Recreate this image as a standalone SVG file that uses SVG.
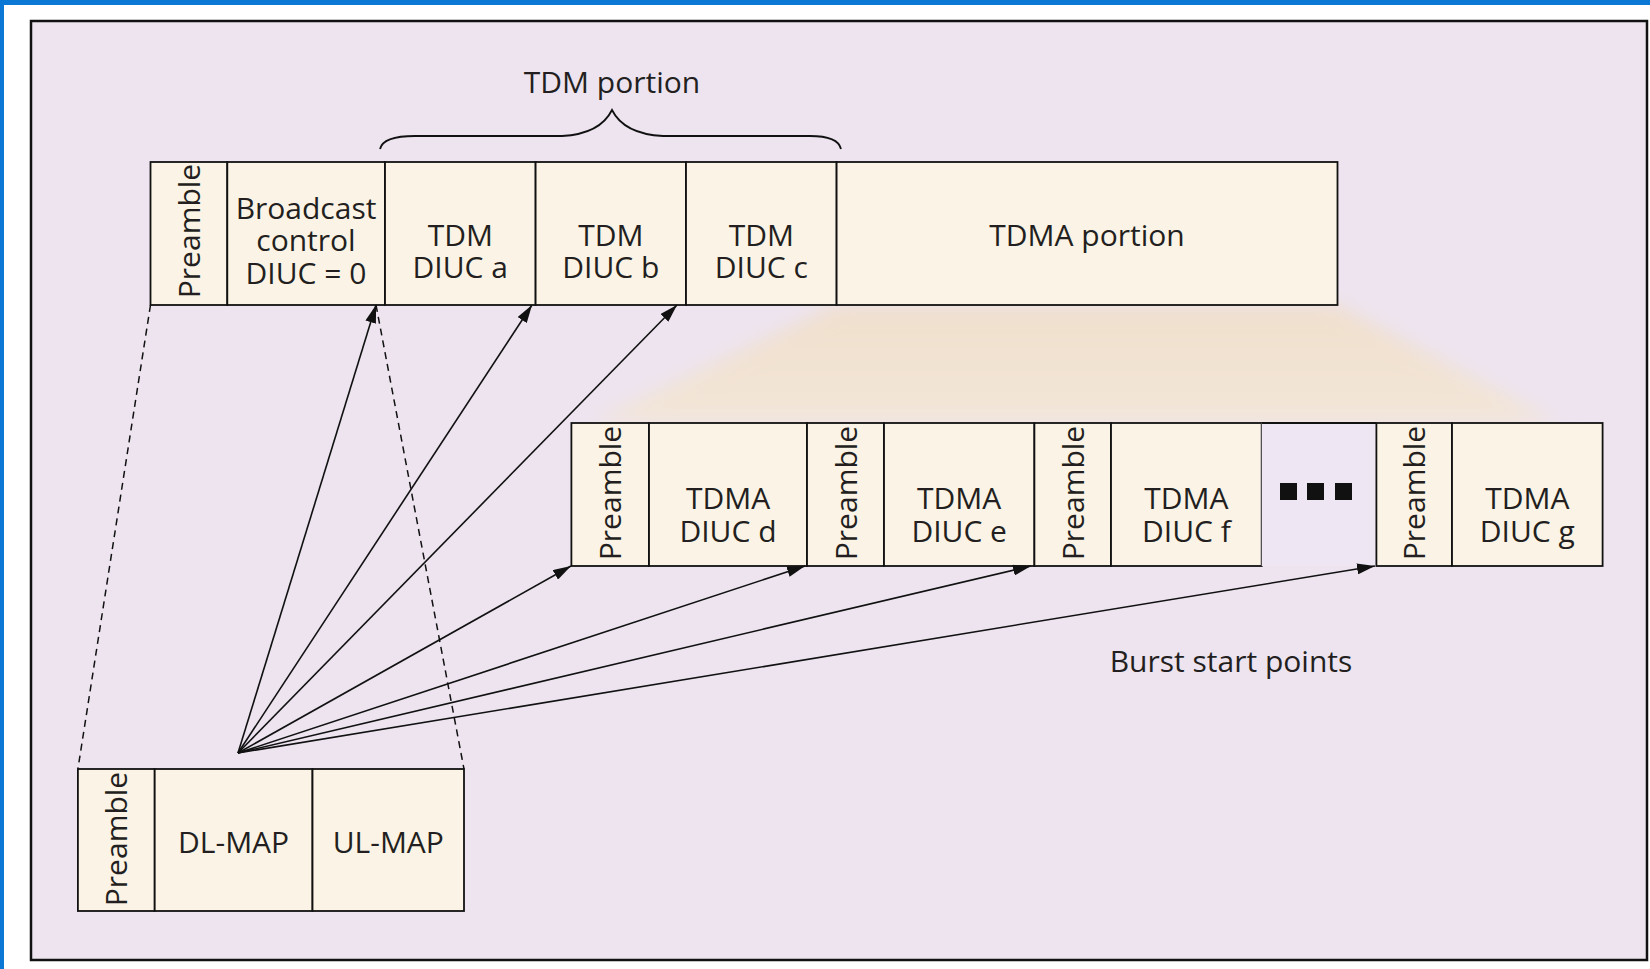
<svg xmlns="http://www.w3.org/2000/svg" width="1650" height="969" viewBox="0 0 1650 969">
  <defs>
    <style>
      .cell { fill: #fbf3e6; stroke: #111; stroke-width: 1.8; }
      .lbl { font-family: "Open Sans", "Noto Sans", "DejaVu Sans", sans-serif; font-size: 30px; fill: #231f20; text-anchor: middle; }
      .conn { fill: none; stroke: #111; stroke-width: 1.6; }
      .dash { fill: none; stroke: #111; stroke-width: 1.5; stroke-dasharray: 7 5; }
      .brace { fill: none; stroke: #111; stroke-width: 1.8; }
    </style>
    <marker id="arrow" viewBox="0 0 18 11" refX="18" refY="5.5" markerWidth="18" markerHeight="11" markerUnits="userSpaceOnUse" orient="auto">
      <path d="M0,0 L18,5.5 L0,11 z" fill="#111"/>
    </marker>
    <linearGradient id="zoomShade" x1="0" y1="0" x2="0" y2="1">
      <stop offset="0" stop-color="#f0dfcc"/>
      <stop offset="1" stop-color="#f3e6d8"/>
    </linearGradient>
    <filter id="soft" x="-10%" y="-30%" width="120%" height="160%">
      <feGaussianBlur stdDeviation="10"/>
    </filter>
  </defs>

  <!-- page and frame -->
  <rect x="0" y="0" width="1650" height="969" fill="#ffffff"/>
  <rect x="0" y="0" width="1650" height="5" fill="#0a78d4"/>
  <rect x="0" y="0" width="4" height="969" fill="#0a78d4"/>
  <rect x="31" y="21" width="1616" height="939" fill="#ede4f0" stroke="#111" stroke-width="2.5"/>

  <!-- expansion of the TDMA portion -->
  <polygon points="836,305 1337,305 1560,423 590,423" fill="url(#zoomShade)" filter="url(#soft)"/>

  <!-- TDM portion brace -->
  <g id="tdm-portion">
    <path class="brace" d="M380,149 Q383,136 415,136 L562,136 Q600,134 612,110 Q624,134 663,136 L810,136 Q838,136 841,149"/>
    <text class="lbl" x="612" y="93">TDM portion</text>
  </g>

  <!-- downlink subframe -->
  <g id="dl-preamble">
    <rect class="cell" x="150.5" y="162" width="76.8" height="143"/>
    <text class="lbl" transform="translate(189,231) rotate(-90)" y="11">Preamble</text>
  </g>
  <g id="broadcast-control">
    <rect class="cell" x="227.3" y="162" width="157.7" height="143"/>
    <text class="lbl" x="306" y="218.5">Broadcast</text>
    <text class="lbl" x="306" y="251">control</text>
    <text class="lbl" x="306" y="283.5">DIUC = 0</text>
  </g>
  <g id="tdm-a">
    <rect class="cell" x="385" y="162" width="150.6" height="143"/>
    <text class="lbl" x="460.3" y="246">TDM</text>
    <text class="lbl" x="460.3" y="278">DIUC a</text>
  </g>
  <g id="tdm-b">
    <rect class="cell" x="535.6" y="162" width="150.4" height="143"/>
    <text class="lbl" x="610.8" y="246">TDM</text>
    <text class="lbl" x="610.8" y="278">DIUC b</text>
  </g>
  <g id="tdm-c">
    <rect class="cell" x="686" y="162" width="150.6" height="143"/>
    <text class="lbl" x="761.3" y="246">TDM</text>
    <text class="lbl" x="761.3" y="278">DIUC c</text>
  </g>
  <g id="tdma-portion">
    <rect class="cell" x="836.6" y="162" width="500.9" height="143"/>
    <text class="lbl" x="1087" y="246">TDMA portion</text>
  </g>

  <!-- TDMA bursts -->
  <g id="burst-d-preamble">
    <rect class="cell" x="571.4" y="423" width="77.6" height="143"/>
    <text class="lbl" transform="translate(610,493) rotate(-90)" y="11">Preamble</text>
  </g>
  <g id="burst-d">
    <rect class="cell" x="649" y="423" width="158" height="143"/>
    <text class="lbl" x="728" y="508.5">TDMA</text>
    <text class="lbl" x="728" y="541.5">DIUC d</text>
  </g>
  <g id="burst-e-preamble">
    <rect class="cell" x="807" y="423" width="77" height="143"/>
    <text class="lbl" transform="translate(845.5,493) rotate(-90)" y="11">Preamble</text>
  </g>
  <g id="burst-e">
    <rect class="cell" x="884" y="423" width="150.4" height="143"/>
    <text class="lbl" x="959.2" y="508.5">TDMA</text>
    <text class="lbl" x="959.2" y="541.5">DIUC e</text>
  </g>
  <g id="burst-f-preamble">
    <rect class="cell" x="1034.4" y="423" width="76.6" height="143"/>
    <text class="lbl" transform="translate(1072.7,493) rotate(-90)" y="11">Preamble</text>
  </g>
  <g id="burst-f">
    <rect class="cell" x="1111" y="423" width="150.7" height="143"/>
    <text class="lbl" x="1186.4" y="508.5">TDMA</text>
    <text class="lbl" x="1186.4" y="541.5">DIUC f</text>
  </g>
  <g id="burst-gap">
    <rect x="1261.7" y="423" width="114.7" height="143" fill="#eee6f2"/>
    <line x1="1261.7" y1="423" x2="1376.4" y2="423" stroke="#111" stroke-width="1.8"/>
    <rect x="1280" y="483" width="17" height="17" fill="#111"/>
    <rect x="1307" y="483" width="17" height="17" fill="#111"/>
    <rect x="1335" y="483" width="17" height="17" fill="#111"/>
  </g>
  <g id="burst-g-preamble">
    <rect class="cell" x="1376.4" y="423" width="75.6" height="143"/>
    <text class="lbl" transform="translate(1414.2,493) rotate(-90)" y="11">Preamble</text>
  </g>
  <g id="burst-g">
    <rect class="cell" x="1452" y="423" width="150.6" height="143"/>
    <text class="lbl" x="1527.3" y="508.5">TDMA</text>
    <text class="lbl" x="1527.3" y="541.5">DIUC g</text>
  </g>

  <!-- broadcast control detail -->
  <g id="map-preamble">
    <rect class="cell" x="77.9" y="769" width="76.8" height="142"/>
    <text class="lbl" transform="translate(116.3,839) rotate(-90)" y="11">Preamble</text>
  </g>
  <g id="dl-map">
    <rect class="cell" x="154.7" y="769" width="157.8" height="142"/>
    <text class="lbl" x="233.6" y="853">DL-MAP</text>
  </g>
  <g id="ul-map">
    <rect class="cell" x="312.5" y="769" width="151.5" height="142"/>
    <text class="lbl" x="388.3" y="853">UL-MAP</text>
  </g>

  <g id="burst-start-label">
    <text class="lbl" x="1231" y="672">Burst start points</text>
  </g>

  <!-- connectors -->
  <g id="connectors">
    <line class="dash" x1="150.5" y1="305" x2="77.9" y2="769"/>
    <line class="dash" x1="376" y1="305" x2="464" y2="769"/>
    <line class="conn" x1="238" y1="753" x2="376" y2="305" marker-end="url(#arrow)"/>
    <line class="conn" x1="238" y1="753" x2="532" y2="305" marker-end="url(#arrow)"/>
    <line class="conn" x1="238" y1="753" x2="677" y2="305" marker-end="url(#arrow)"/>
    <line class="conn" x1="238" y1="753" x2="571" y2="566" marker-end="url(#arrow)"/>
    <line class="conn" x1="238" y1="753" x2="805" y2="566" marker-end="url(#arrow)"/>
    <line class="conn" x1="238" y1="753" x2="1031" y2="566" marker-end="url(#arrow)"/>
    <line class="conn" x1="238" y1="753" x2="1375" y2="566" marker-end="url(#arrow)"/>
  </g>
</svg>
